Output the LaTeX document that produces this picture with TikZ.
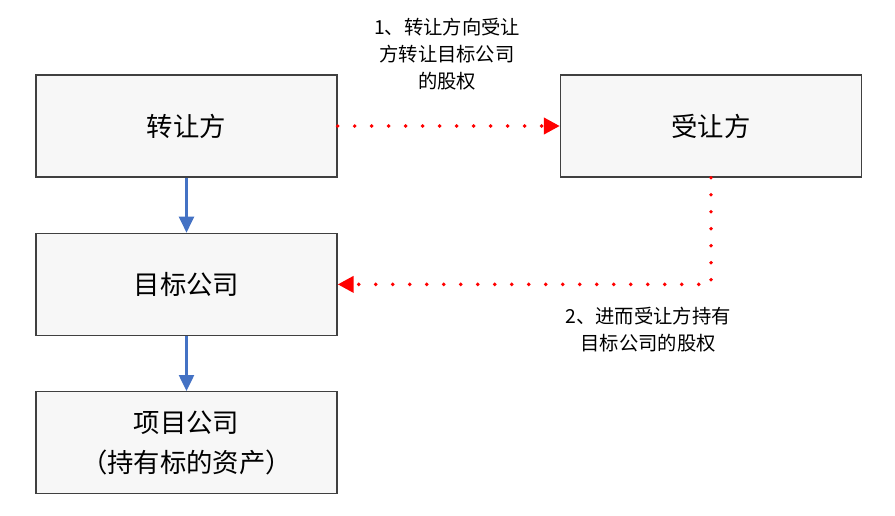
\documentclass[tikz,border=0pt]{standalone}
\usepackage{fontspec}
\setmainfont{Noto Sans CJK SC}
\usetikzlibrary{positioning,arrows.meta}
\definecolor{own_blue}{RGB}{68,114,196}
\begin{document}
\begin{tikzpicture}[
        x=0.02cm, y=-0.02cm,
        party_box/.style={rectangle, draw=black!75, fill=black!3, thick, minimum width=6.02cm, minimum height=2.04cm, font=\fontsize{15}{18}\selectfont},
        own_arrow/.style={draw=own_blue, line width=1.3pt, -{Triangle[length=3.2mm, width=3mm]}},
        deal_arrow/.style={draw=red, line width=2.2pt, line cap=round, dash pattern=on 0pt off 3.4mm, -{Triangle[length=3.2mm, width=3.2mm, fill=red]}},
        note/.style={align=center, font=\fontsize{11}{15.5}\selectfont}
        ]
            \useasboundingbox (0,0) rectangle (895,515);
            % parties
            \node[party_box]    (seller)   at (186.5,126)      {转让方};
            \node[party_box]    (buyer)    at (711,126)        {受让方};
            \node[party_box]    (target)   [below = 1.1cm of seller]      {目标公司};
            \node[party_box, align=center, font=\fontsize{15}{23}\selectfont]    (project)  [below = 1.1cm of target]      {项目公司\\（持有标的资产）};
            % ownership
            \draw[own_arrow] (seller) -- (target);
            \draw[own_arrow] (target) -- (project);
            % transfer
            \draw[deal_arrow] (seller.east) -- (buyer.west);
            \draw[deal_arrow] (buyer.south) |- (target.east);
            % text
            \node[note] (note_1) at (447,54)  {1、转让方向受让\\方转让目标公司\\的股权};
            \node[note] (note_2) at (648,330) {2、进而受让方持有\\目标公司的股权};
        \end{tikzpicture}
\end{document}
